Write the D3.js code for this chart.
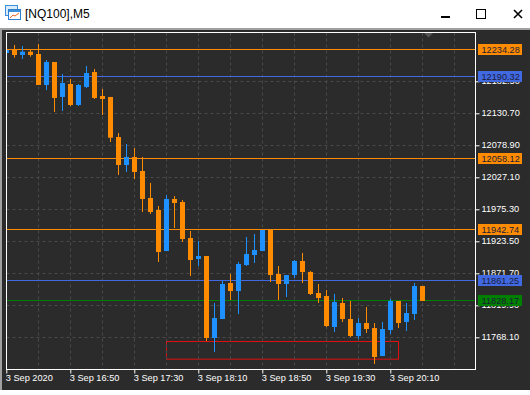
<!DOCTYPE html>
<html>
<head>
<meta charset="utf-8">
<script src="https://cdn.jsdelivr.net/npm/d3@7"></script>
<style>
html, body { margin: 0; padding: 0; background: #fff; }
svg { display: block; }
text { font-family: "Liberation Sans", sans-serif; font-size: 9.2px; }
</style>
</head>
<body>
<div id="chart"></div>
<script>
const title = '[NQ100],M5';
const firstBar = new Date(2020, 8, 3, 16, 10);

// candles, one per 5 minutes
const opens = [12228.3, 12234.3, 12225.1, 12230.4, 12226.7, 12176.5, 12213.7, 12157.1, 12178.1, 12144.1,
    12173.3, 12197.5, 12158.7, 12157.1, 12092.3, 12047, 12060, 12037.3, 11993.6, 11974.2,
    11907.8, 11992, 11987.1, 11928.8, 11894.8, 11899.7, 11767, 11797.7, 11856, 11843,
    11885.1, 11901.3, 11907.8, 11941.8, 11870.6, 11854.4, 11868.9, 11891.6, 11873.8, 11839.8,
    11834.9, 11784.8, 11823.6, 11797.7, 11770.2, 11791.2, 11783.1, 11737.8, 11779.9, 11826.9,
    11792.9, 11805.8, 11851.1];
const highs = [12234.8, 12241.3, 12239.6, 12234.3, 12242.9, 12217, 12213.7, 12194.3, 12186.2, 12178.1,
    12207.3, 12202.4, 12170, 12157.1, 12098.8, 12081, 12074.5, 12060, 12017.9, 11980.6,
    11998.4, 11996.8, 11990.3, 11940.2, 11924, 11899.7, 11823.6, 11859.2, 11870.6, 11890,
    11930.5, 11935.3, 11941.8, 11941.8, 11883.5, 11868.9, 11893.2, 11904.6, 11875.4, 11854.4,
    11844.7, 11838.2, 11831.7, 11826.9, 11799.3, 11817.1, 11791.2, 11792.9, 11830.1, 11826.9,
    11823.6, 11856, 11851.1];
const lows = [12226.7, 12220.7, 12218.6, 12222.3, 12176.5, 12168.4, 12132.8, 12134.4, 12142.5, 12142.5,
    12171.6, 12153.8, 12127.9, 12084.2, 12030.8, 12035.7, 12024.3, 11970.9, 11967.7, 11890,
    11907.8, 11945, 11922.4, 11867.3, 11883.5, 11762.1, 11744.3, 11797.7, 11828.5, 11805.8,
    11883.5, 11888.4, 11907.8, 11857.6, 11828.5, 11833.3, 11864.1, 11856, 11836.6, 11823.6,
    11784.8, 11776.7, 11792.9, 11768.6, 11765.3, 11775.1, 11724.9, 11737.8, 11773.4, 11783.1,
    11778.3, 11796.1, 11826.9];
const closes = [12233.2, 12225.1, 12230.4, 12225.1, 12176.5, 12213.7, 12155.5, 12179.7, 12144.1, 12176.5,
    12195.9, 12155.5, 12153.8, 12091.2, 12047, 12060, 12035.7, 11992, 11970.9, 11906.2,
    11992, 11985.5, 11927.2, 11893.2, 11899.7, 11767, 11799.3, 11854.4, 11843, 11886.7,
    11902.9, 11909.4, 11941.8, 11868.9, 11854.4, 11868.9, 11891.6, 11873.8, 11838.2, 11831.7,
    11786.4, 11825.2, 11797.7, 11770.2, 11791.2, 11781.5, 11736.2, 11781.5, 11826.9, 11791.2,
    11807.4, 11851.1, 11826.9];

const priceTicks = [12182.5, 12130.7, 12078.9, 12027.1, 11975.3, 11923.5, 11871.7, 11819.9, 11768.1];
const timeTickLabels = ['3 Sep 2020', '3 Sep 16:50', '3 Sep 17:30', '3 Sep 18:10', '3 Sep 18:50', '3 Sep 19:30', '3 Sep 20:10'];

const levelPrices = [12234.28, 12190.32, 12058.12, 11942.74, 11861.25, 11828.17];
const levelColours = ['#ff8c00', '#4169e1', '#ff8c00', '#ff8c00', '#4169e1', '#008000'];

const boxPrices = [11761.6, 11733];
const boxBars = [20, 49];

const minutes = n => new Date(firstBar.getTime() + n * 300000);

const width = 530, height = 395;
const plot = {left: 6.5, right: 475.5, top: 32.5, bottom: 369.5};
const upColour = '#1e90ff', downColour = '#ff8c00';
const bg = '#2b2b2b';

const svg = d3.select('#chart').append('svg').attr('width', width).attr('height', height);

// window chrome
svg.append('rect').attr('width', width).attr('height', height).attr('fill', '#fff');
svg.append('rect').attr('y', 28).attr('width', width).attr('height', 362).attr('fill', '#a0a0a0');
svg.append('rect').attr('x', 2).attr('y', 30).attr('width', width - 2).attr('height', 360).attr('fill', bg);

const icon = svg.append('g');
icon.append('rect').attr('x', 5.5).attr('y', 5.5).attr('width', 12).attr('height', 10).attr('fill', '#d9ecfb').attr('stroke', '#3d8fd9');
icon.append('rect').attr('x', 8.5).attr('y', 9.5).attr('width', 12).attr('height', 10).attr('fill', '#fff').attr('stroke', '#2f7fd0');
icon.append('rect').attr('x', 9).attr('y', 10).attr('width', 11).attr('height', 2).attr('fill', '#3d8fd9');
icon.append('path').attr('d', 'M10,18 L13,15 L15,16 L19,13').attr('fill', 'none').attr('stroke', '#e8622a');

svg.append('text').attr('x', 25).attr('y', 18).attr('fill', '#000')
    .style('font-size', '12px').text(title);

svg.append('rect').attr('x', 441).attr('y', 16).attr('width', 9).attr('height', 2).attr('fill', '#000');
svg.append('rect').attr('x', 476.5).attr('y', 9.5).attr('width', 9).attr('height', 9).attr('fill', 'none').attr('stroke', '#000');
svg.append('path').attr('d', 'M514,10 L522,18 M522,10 L514,18').attr('stroke', '#000').attr('stroke-width', 1.6);

// scales
const xScale = d3.scaleTime()
    .domain([firstBar, minutes(52)])
    .range([6.3, 422.3]);
const yScale = d3.scaleLinear()
    .domain([11768.1, 12234.28])
    .range([337.3, 49.3]);

const gridColour = '#4a4a4a';
const gridTimes = d3.range(4, 60, 4).map(minutes);

const boxG = svg.append('g');
boxG.append('rect')
    .attr('x', Math.round(xScale(minutes(boxBars[0]))) + 0.5)
    .attr('y', Math.round(yScale(boxPrices[0])) + 0.5)
    .attr('width', xScale(minutes(boxBars[1])) - xScale(minutes(boxBars[0])))
    .attr('height', yScale(boxPrices[1]) - yScale(boxPrices[0]))
    .attr('fill', 'none').attr('stroke', '#e01010').attr('stroke-width', 1);

// dashed grid
const grid = svg.append('g').attr('stroke', gridColour).attr('stroke-dasharray', '3,3');
grid.selectAll('.v').data(gridTimes.filter(t => xScale(t) < plot.right)).join('line')
    .attr('x1', d => Math.round(xScale(d)) + 0.5).attr('x2', d => Math.round(xScale(d)) + 0.5)
    .attr('y1', plot.top).attr('y2', plot.bottom);
grid.selectAll('.h').data(priceTicks).join('line')
    .attr('x1', plot.left).attr('x2', plot.right)
    .attr('y1', d => Math.round(yScale(d)) + 0.5).attr('y2', d => Math.round(yScale(d)) + 0.5);

// level lines
svg.append('g').selectAll('line').data(levelPrices).join('line')
    .attr('x1', plot.left).attr('x2', plot.right)
    .attr('y1', d => Math.round(yScale(d)) + 0.5).attr('y2', d => Math.round(yScale(d)) + 0.5)
    .attr('stroke', (d, i) => levelColours[i]);

// candles
const clipId = 'plot-clip';
svg.append('clipPath').attr('id', clipId).append('rect')
    .attr('x', plot.left).attr('y', plot.top)
    .attr('width', plot.right - plot.left).attr('height', plot.bottom - plot.top);

const candles = svg.append('g').attr('clip-path', `url(#${clipId})`)
    .selectAll('g').data(opens.map((o, i) => i)).join('g')
    .attr('fill', i => closes[i] >= opens[i] ? upColour : downColour);

candles.append('rect')
    .attr('x', i => Math.round(xScale(minutes(i))))
    .attr('width', 1)
    .attr('y', i => yScale(highs[i]))
    .attr('height', i => yScale(lows[i]) - yScale(highs[i]));
candles.append('rect')
    .attr('x', i => Math.round(xScale(minutes(i))) - 2)
    .attr('width', 5)
    .attr('y', i => yScale(Math.max(opens[i], closes[i])))
    .attr('height', i => Math.max(1, yScale(Math.min(opens[i], closes[i])) - yScale(Math.max(opens[i], closes[i]))));

// frame
svg.append('rect').attr('x', plot.left).attr('y', plot.top)
    .attr('width', plot.right - plot.left).attr('height', plot.bottom - plot.top)
    .attr('fill', 'none').attr('stroke', '#fff');

// shift marker
svg.append('path').attr('d', 'M424,33 L433,33 L428.5,37.5 Z').attr('fill', '#555');

// price axis
const yAxis = d3.axisRight(yScale).tickValues(priceTicks).tickSize(4).tickPadding(2).tickFormat(d3.format('.2f'));
const yG = svg.append('g').attr('transform', `translate(${plot.right},0)`).call(yAxis);
yG.select('.domain').remove();
yG.selectAll('line').attr('stroke', '#fff');
yG.selectAll('text').attr('fill', '#fff').attr('dy', '0.28em')
    .style('font-size', '9.2px').style('font-family', '"Liberation Sans", sans-serif');

// time axis
const xAxis = d3.axisBottom(xScale)
    .tickValues(timeTickLabels.map((d, i) => minutes(i * 8)))
    .tickSize(4).tickPadding(1)
    .tickFormat((d, i) => timeTickLabels[i]);
const xG = svg.append('g').attr('transform', `translate(0,${plot.bottom})`).call(xAxis);
xG.select('.domain').remove();
xG.selectAll('line').attr('stroke', '#fff');
xG.selectAll('text').attr('fill', '#fff').attr('text-anchor', 'start').attr('dx', -1)
    .style('font-size', '9.2px').style('font-family', '"Liberation Sans", sans-serif');

// level price labels
const tags = svg.append('g').selectAll('g').data(levelPrices).join('g')
    .attr('transform', d => `translate(478,${Math.round(yScale(d)) - 5})`);
tags.append('rect').attr('width', 44).attr('height', 11).attr('fill', (d, i) => levelColours[i]);
tags.append('text').attr('x', 3.5).attr('y', 9).attr('fill', '#1c1c3a').text(d3.format('.2f'));
</script>
</body>
</html>
